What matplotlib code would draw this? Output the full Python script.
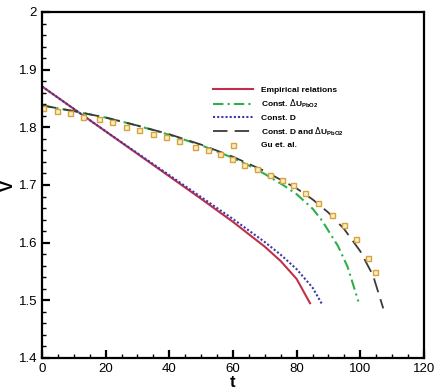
import matplotlib
matplotlib.use("Agg")
import matplotlib.pyplot as plt
from matplotlib.ticker import MultipleLocator

plt.rcParams['font.family'] = ['Liberation Sans', 'DejaVu Sans']

# Empirical relations
t_emp = [0, 10, 20, 30, 40, 50, 60, 70, 75, 80, 84.2]
v_emp = [1.871, 1.832, 1.793, 1.754, 1.715, 1.676, 1.636, 1.593, 1.568, 1.537, 1.495]

# Const. D
t_cd = [0, 10, 20, 30, 40, 50, 60, 70, 75, 80, 85, 87.9]
v_cd = [1.871, 1.832, 1.793, 1.755, 1.717, 1.679, 1.641, 1.601, 1.579, 1.554, 1.522, 1.494]

# Const. dU
t_cu = [0, 10, 20, 30, 40, 50, 60, 66, 70, 76, 80, 85, 88, 93, 96, 99.4]
v_cu = [1.838, 1.828, 1.817, 1.803, 1.787, 1.769, 1.747, 1.731, 1.719, 1.699, 1.684, 1.659, 1.638, 1.594, 1.558, 1.498]

# Const. D and dU
t_cdu = [0, 10, 20, 30, 40, 50, 60, 70, 80, 85, 90, 95, 100, 104, 107.2]
v_cdu = [1.838, 1.828, 1.817, 1.803, 1.788, 1.770, 1.749, 1.724, 1.694, 1.675, 1.652, 1.623, 1.585, 1.543, 1.486]

# Gu et al.
t_gu = [0.4, 4.6, 8.8, 12.8, 18, 21.9, 26.4, 30.6, 35, 39, 43.1, 48.1, 52.2, 55.9,
        59.6, 63.6, 67.5, 71.6, 75.3, 79, 82.6, 86.8, 91, 95, 98.6, 102.3, 104.6]
v_gu = [1.833, 1.828, 1.824, 1.818, 1.814, 1.809, 1.801, 1.795, 1.789, 1.783, 1.776, 1.766, 1.761, 1.753,
        1.745, 1.735, 1.727, 1.717, 1.709, 1.700, 1.686, 1.668, 1.648, 1.631, 1.606, 1.573, 1.550]

x_ticks = [0, 20, 40, 60, 80, 100, 120]
y_ticks = [1.4, 1.5, 1.6, 1.7, 1.8, 1.9, 2.0]
y_ticklabels = ['1.4', '1.5', '1.6', '1.7', '1.8', '1.9', '2']

labels = ['Empirical relations', r'Const. $\Delta$U$_{\mathregular{PbO2}}$', 'Const. D',
          r'Const. D and $\Delta$U$_{\mathregular{PbO2}}$', 'Gu et. al.']

fig = plt.figure(figsize=(4.35, 3.92), dpi=100)
ax = fig.add_axes([42/435, 1-358/392, (424-42)/435, (358-12)/392])

ax.plot(t_emp, v_emp, color='#c0304a', lw=1.5, label=labels[0])
ax.plot(t_cu, v_cu, color='#2fae4a', lw=1.5, ls=(0, (5, 2, 1, 2)), label=labels[1])
ax.plot(t_cd, v_cd, color='#3a3aa8', lw=1.5, ls=(0, (1, 1)), label=labels[2])
ax.plot(t_cdu, v_cdu, color='#3a3a3a', lw=1.3, ls=(0, (8, 4)), label=labels[3])
ax.plot(t_gu, v_gu, ls='none', marker='s', ms=3.6, mfc='#f8efc8', mec='#d9a23a', mew=1.0, label=labels[4])

ax.set_xlim(0, 120)
ax.set_ylim(1.4, 2.0)
ax.set_xticks(x_ticks)
ax.set_xticklabels([str(v) for v in x_ticks])
ax.xaxis.set_minor_locator(MultipleLocator(5))
ax.set_yticks(y_ticks)
ax.set_yticklabels(y_ticklabels)
ax.yaxis.set_minor_locator(MultipleLocator(0.02))
ax.tick_params(which='both', direction='in', top=False, right=False, labelsize=9.5, width=1.0)
ax.tick_params(which='major', length=6, width=1.6)
ax.tick_params(which='minor', length=3)
for s in ax.spines.values():
    s.set_linewidth(1.6)

ax.set_xlabel('t', fontsize=12, fontweight='bold', labelpad=0)
ax.set_ylabel('V', fontsize=12, fontweight='bold', rotation=90, labelpad=2)

leg = ax.legend(loc='upper left', bbox_to_anchor=((213-42)/382, (358-86)/346),
                frameon=False, prop={'weight': 'bold', 'size': 6},
                handlelength=4.8, handletextpad=1.0, labelspacing=0.45, borderpad=0,
                borderaxespad=0)

fig.savefig('out.png', dpi=100)
